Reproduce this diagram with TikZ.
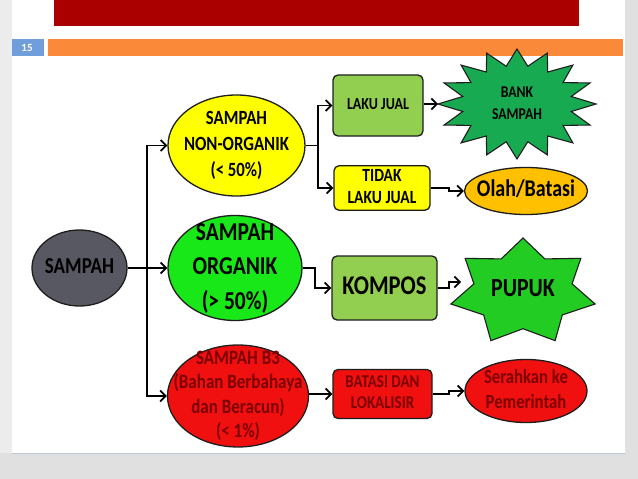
\documentclass[tikz,border=0pt]{standalone}
\usepackage{fontspec}
\setmainfont{Carlito}
\usepackage{graphicx}
\usetikzlibrary{shapes.geometric,arrows.meta}
\newcommand{\vs}[2][1.2]{\scalebox{1}[#1]{\begin{tabular}{@{}c@{}}#2\end{tabular}}}
\newcommand{\fs}[2]{\fontsize{#1}{#2}\selectfont\bfseries}
\definecolor{bgout}{RGB}{224,224,224}
\definecolor{bgleft}{RGB}{236,236,236}
\definecolor{titlered}{RGB}{170,0,0}
\definecolor{barorange}{RGB}{250,137,58}
\definecolor{numblue}{RGB}{112,158,218}
\definecolor{greynode}{RGB}{88,88,98}
\definecolor{yel}{RGB}{255,255,0}
\definecolor{brightgreen}{RGB}{24,232,24}
\definecolor{lightgreen}{RGB}{146,206,80}
\definecolor{bankgreen}{RGB}{24,170,80}
\definecolor{pupukgreen}{RGB}{34,204,34}
\definecolor{orangeyel}{RGB}{255,192,0}
\definecolor{rednode}{RGB}{240,16,16}
\definecolor{darkred}{RGB}{125,0,0}
\definecolor{outline}{RGB}{30,30,30}
\tikzset{
  conn/.style={draw=black, line width=1.7pt, -{Straight Barb[length=5.5pt,width=11pt,line width=1.7pt]}},
  line/.style={draw=black, line width=1.7pt},
  ell/.style={ellipse, draw=outline, line width=1.3pt, inner sep=0pt},
  rbox/.style={rectangle, rounded corners=5pt, draw=outline, line width=1.3pt, inner sep=0pt, align=center},
  starline/.style={draw=outline, line width=1.1pt},
}
\begin{document}
\begin{tikzpicture}[x=1pt,y=-1pt]
\useasboundingbox (0,0) rectangle (638,479);
% background
\fill[bgout] (0,0) rectangle (638,479);
\fill[bgleft] (0,0) rectangle (12,453);
\fill[white] (12,0) rectangle (625,453);
\draw[line width=0.6pt, color={rgb,255:red,190;green,200;blue,210}] (12,453) -- (625,453);
% header bars
\fill[titlered] (54,0) rectangle (579,26);
\fill[numblue] (12,39) rectangle (44,56);
\node[text=white, font=\fs{11}{12}] (num) at (27,47.5) {15};
\fill[barorange] (48,39) rectangle (623,56);

% main nodes
\node[ell, fill=greynode, minimum width=95pt, minimum height=76pt,
  label={[font=\fs{19}{22}, text=black, inner sep=0pt]center:\vs{SAMPAH}}] (sampah) at (79.5,268) {};
\node[ell, fill=yel, minimum width=137pt, minimum height=101pt,
  label={[font=\fs{16.8}{21.5}, text=black, inner sep=0pt]center:\vs{SAMPAH\\NON-ORGANIK\\(< 50\%)}}] (yel) at (236.5,145.5) {};
\node[ell, fill=brightgreen, minimum width=134pt, minimum height=105pt,
  label={[font=\fs{21.5}{29}, text=black, inner sep=0pt]center:\vs{SAMPAH\\ORGANIK\\(> 50\%)}}] (grn) at (235,268) {};
\node[ell, fill=rednode, minimum width=141pt, minimum height=102pt,
  label={[font=\fs{17}{20.5}, text=darkred, inner sep=0pt]center:\vs{SAMPAH B3\\(Bahan Berbahaya\\dan Beracun)\\(< 1\%)}}] (red) at (238,396) {};

% second column
\node[rbox, fill=lightgreen, minimum width=90pt, minimum height=61pt, font=\fs{14}{17}] (laku) at (378,105.5) {\vs{LAKU JUAL}};
\node[rbox, fill=yel, minimum width=96pt, minimum height=44pt, font=\fs{15.5}{18.5}] (tidak) at (382,188) {\vs{TIDAK\\LAKU JUAL}};
\node[rbox, fill=lightgreen, minimum width=105pt, minimum height=64pt, font=\fs{22.5}{26}] (kompos) at (384.5,288) {\vs{KOMPOS}};
\node[rbox, fill=rednode, minimum width=99pt, minimum height=49pt, font=\fs{15}{17.5}, text=darkred] (batasi) at (382.5,394) {\vs{BATASI DAN\\LOKALISIR}};

% third column
\draw[starline, fill=bankgreen] (596,104)
  \foreach \i in {1,...,31} { -- ({517+79*(1-0.3*mod(\i,2))*cos(\i*11.25)}, {104-55*(1-0.3*mod(\i,2))*sin(\i*11.25)}) } -- cycle;
\node[font=\fs{13.7}{18}, text=black, inner sep=0pt] (bank) at (517,104) {\vs{BANK\\SAMPAH}};
\coordinate (bankL) at (438,104);

\node[ell, fill=orangeyel, minimum width=123pt, minimum height=47pt,
  label={[font=\fs{20}{22}, text=black, inner sep=0pt]center:\vs{Olah/Batasi}}] (olah) at (526,191) {};

\draw[starline, fill=pupukgreen] (523,238)
  \foreach \i in {1,...,13} { -- ({523+74*(1-0.32*mod(\i,2))*cos(90+\i*25.7143)}, {292-54*(1-0.32*mod(\i,2))*sin(90+\i*25.7143)}) } -- cycle;
\node[font=\fs{21.8}{25}, text=black, inner sep=0pt] (pupuk) at (523,290) {\vs{PUPUK}};
\coordinate (pupukL) at (461,282);

\node[ell, fill=rednode, minimum width=122pt, minimum height=63pt,
  label={[font=\fs{16.7}{21}, text=darkred, inner sep=0pt]center:\vs{Serahkan ke\\Pemerintah}}] (ser) at (526,391) {};

% connectors
\coordinate (trunk) at (147,268);
\draw[conn] (sampah.east) -- (grn.west);
\draw[conn] (trunk) |- (yel.west);
\draw[conn] (trunk) |- (red.west);

\coordinate (yj) at (318,145.5);
\draw[line] (yel.east) -- (yj);
\draw[conn] (yj) |- (laku.west);
\draw[conn] (yj) |- (tidak.west);

\draw[conn] (laku.east |- bankL) -- (bankL);
\draw[conn] (tidak.east) -- ++(18,0) |- (olah.west);

\draw[conn] (grn.east) -- ++(12,0) |- (kompos.west);
\draw[conn] (kompos.east) -- ++(11,0) |- (pupukL);

\draw[conn] (red.east |- batasi.west) -- (batasi.west);
\draw[conn] (batasi.east) -- ++(16,0) |- (ser.west);
\end{tikzpicture}
\end{document}
